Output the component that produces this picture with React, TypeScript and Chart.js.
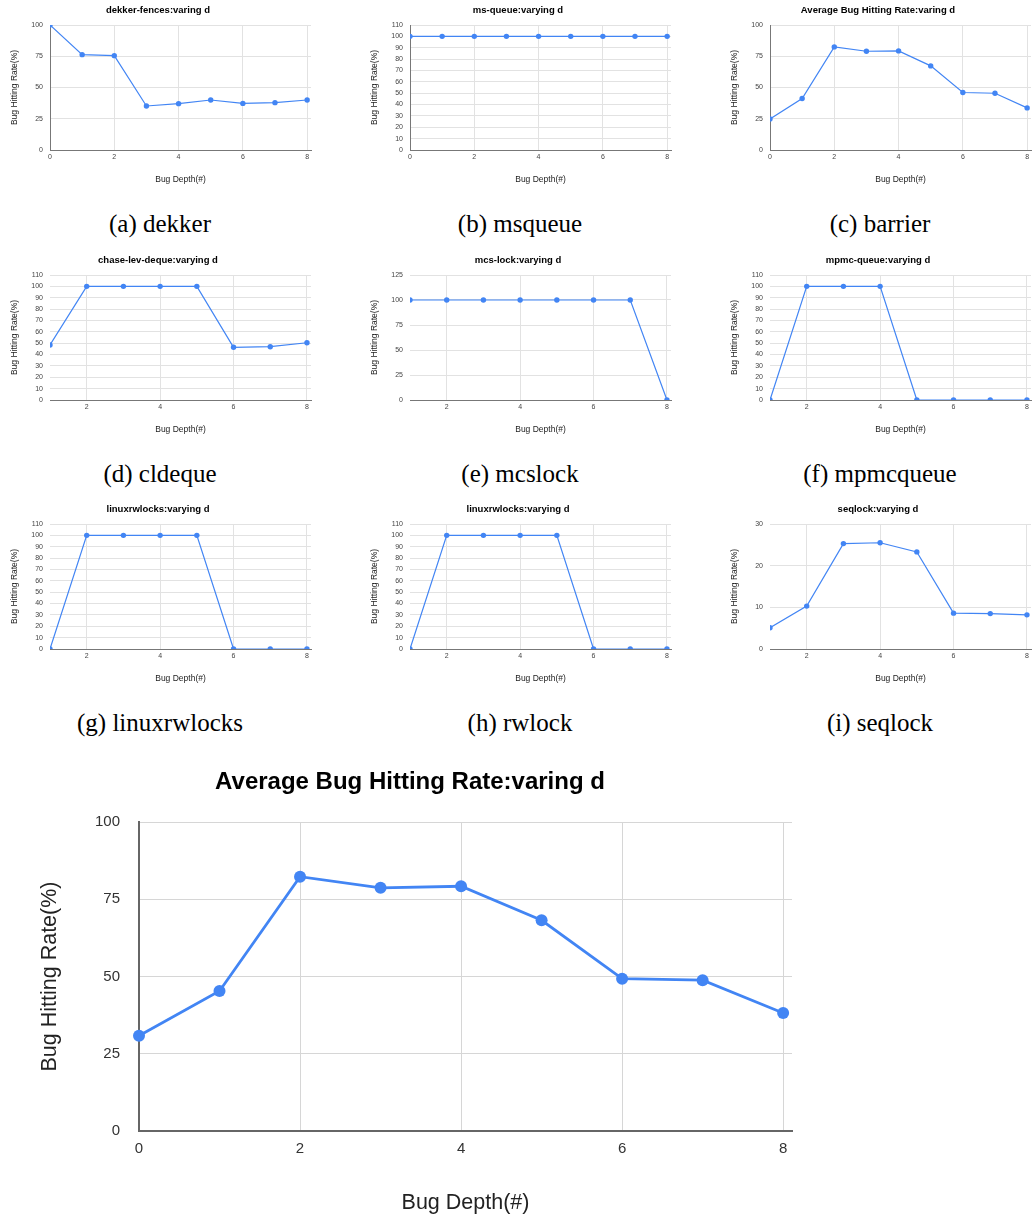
import React, { useEffect, useRef } from "react";
import { Chart, registerables } from "chart.js";

Chart.register(...registerables);

const FONT = "'Liberation Sans', Arial, Helvetica, sans-serif";
const SERIF = "'Liberation Serif', 'Times New Roman', Times, serif";
const BLUE = "#4285F4";

// ---------- data ----------
const depthsFrom0 = [0, 1, 2, 3, 4, 5, 6, 7, 8];
const depthsFrom1 = [1, 2, 3, 4, 5, 6, 7, 8];
const xTicksFrom0 = [0, 2, 4, 6, 8];
const xTicksFrom1 = [2, 4, 6, 8];
const yTicks100 = [0, 25, 50, 75, 100];
const yTicks110 = [0, 10, 20, 30, 40, 50, 60, 70, 80, 90, 100, 110];
const yTicks125 = [0, 25, 50, 75, 100, 125];
const yTicks30 = [0, 10, 20, 30];

const dekkerValues = [100, 76.3, 75.5, 35.2, 37.1, 40.0, 37.3, 37.9, 40.0];
const msqueueValues = [100, 100, 100, 100, 100, 100, 100, 100, 100];
const barrierValues = [24.8, 41.2, 82.5, 79.0, 79.3, 67.3, 46.0, 45.4, 33.7];
const cldequeValues = [48.4, 100, 100, 100, 100, 46.4, 46.9, 50.4];
const mcslockValues = [100, 100, 100, 100, 100, 100, 100, 0];
const mpmcqueueValues = [0, 100, 100, 100, 0, 0, 0, 0];
const linuxrwlocksValues = [0, 100, 100, 100, 100, 0, 0, 0];
const rwlockValues = [0, 100, 100, 100, 100, 0, 0, 0];
const seqlockValues = [5.1, 10.3, 25.3, 25.5, 23.3, 8.6, 8.5, 8.2];
const averageValues = [30.8, 45.3, 82.3, 78.7, 79.2, 68.2, 49.3, 48.8, 38.2];

const xAxisTitle = "Bug Depth(#)";
const yAxisTitle = "Bug Hitting Rate(%)";

type Panel = {
  title: string;
  caption: string;
  xs: number[];
  ys: number[];
  xTicks: number[];
  yTicks: number[];
  xMin: number;
  xMax: number;
  yMax: number;
};

const panels: Panel[] = [
  { title: "dekker-fences:varing d", caption: "(a) dekker", xs: depthsFrom0, ys: dekkerValues, xTicks: xTicksFrom0, yTicks: yTicks100, xMin: 0, xMax: 8.12, yMax: 100 },
  { title: "ms-queue:varying d", caption: "(b) msqueue", xs: depthsFrom0, ys: msqueueValues, xTicks: xTicksFrom0, yTicks: yTicks110, xMin: 0, xMax: 8.12, yMax: 110 },
  { title: "Average Bug Hitting Rate:varing d", caption: "(c) barrier", xs: depthsFrom0, ys: barrierValues, xTicks: xTicksFrom0, yTicks: yTicks100, xMin: 0, xMax: 8.12, yMax: 100 },
  { title: "chase-lev-deque:varying d", caption: "(d) cldeque", xs: depthsFrom1, ys: cldequeValues, xTicks: xTicksFrom1, yTicks: yTicks110, xMin: 1, xMax: 8.11, yMax: 110 },
  { title: "mcs-lock:varying d", caption: "(e) mcslock", xs: depthsFrom1, ys: mcslockValues, xTicks: xTicksFrom1, yTicks: yTicks125, xMin: 1, xMax: 8.11, yMax: 125 },
  { title: "mpmc-queue:varying d", caption: "(f) mpmcqueue", xs: depthsFrom1, ys: mpmcqueueValues, xTicks: xTicksFrom1, yTicks: yTicks110, xMin: 1, xMax: 8.11, yMax: 110 },
  { title: "linuxrwlocks:varying d", caption: "(g) linuxrwlocks", xs: depthsFrom1, ys: linuxrwlocksValues, xTicks: xTicksFrom1, yTicks: yTicks110, xMin: 1, xMax: 8.11, yMax: 110 },
  { title: "linuxrwlocks:varying d", caption: "(h) rwlock", xs: depthsFrom1, ys: rwlockValues, xTicks: xTicksFrom1, yTicks: yTicks110, xMin: 1, xMax: 8.11, yMax: 110 },
  { title: "seqlock:varying d", caption: "(i) seqlock", xs: depthsFrom1, ys: seqlockValues, xTicks: xTicksFrom1, yTicks: yTicks30, xMin: 1, xMax: 8.11, yMax: 30 },
];

const bigPanel: Panel = {
  title: "Average Bug Hitting Rate:varing d",
  caption: "",
  xs: depthsFrom0,
  ys: averageValues,
  xTicks: xTicksFrom0,
  yTicks: yTicks100,
  xMin: 0,
  xMax: 8.11,
  yMax: 100,
};

type Style = {
  width: number;
  height: number;
  padL: number;
  padR: number;
  titleSize: number;
  titlePadTop: number;
  titlePadBottom: number;
  tickSize: number;
  axisTitleSize: number;
  xAxisHeight: number;
  yAxisWidth: number;
  xTickPad: number;
  yTickPad: number;
  xTitlePadBottom: number;
  yTitlePadTop: number;
  lineWidth: number;
  pointRadius: number;
  gridColor: string;
  axisColor: string;
  axisWidth: number;
  tickColor: string;
  clip: any;
};

const smallStyle: Style = {
  width: 314,
  height: 195,
  padL: 5,
  padR: 3,
  titleSize: 9.5,
  titlePadTop: 4.3,
  titlePadBottom: 9.3,
  tickSize: 7,
  axisTitleSize: 8.5,
  xAxisHeight: 45,
  yAxisWidth: 45,
  xTickPad: 2.5,
  yTickPad: 7,
  xTitlePadBottom: 10.6,
  yTitlePadTop: 4.9,
  lineWidth: 1.2,
  pointRadius: 2.7,
  gridColor: "#e2e2e2",
  axisColor: "#777777",
  axisWidth: 1,
  tickColor: "#444444",
  clip: undefined,
};

const bigStyle: Style = {
  width: 802,
  height: 460,
  padL: 28,
  padR: 10,
  titleSize: 24,
  titlePadTop: 7.6,
  titlePadBottom: 25.6,
  tickSize: 15,
  axisTitleSize: 21.5,
  xAxisHeight: 89,
  yAxisWidth: 111,
  xTickPad: 9,
  yTickPad: 19,
  xTitlePadBottom: 4.1,
  yTitlePadTop: 9.1,
  lineWidth: 2.8,
  pointRadius: 6,
  gridColor: "#d6d6d6",
  axisColor: "#666666",
  axisWidth: 2,
  tickColor: "#333333",
  clip: false,
};

function makeConfig(p: Panel, s: Style): any {
  const ds: any = {
    data: p.xs.map((x, i) => ({ x, y: p.ys[i] })),
    borderColor: BLUE,
    backgroundColor: BLUE,
    borderWidth: s.lineWidth,
    pointRadius: s.pointRadius,
    pointBackgroundColor: BLUE,
    pointBorderWidth: 0,
    tension: 0,
    fill: false,
  };
  if (s.clip !== undefined) ds.clip = s.clip;
  return {
    type: "line",
    data: { datasets: [ds] },
    options: {
      responsive: false,
      animation: false,
      events: [],
      layout: {
        autoPadding: false,
        padding: { left: s.padL, right: s.padR, top: 0, bottom: 0 },
      },
      plugins: {
        legend: { display: false },
        tooltip: { enabled: false },
        title: {
          display: true,
          text: p.title,
          color: "#000000",
          font: { family: FONT, size: s.titleSize, weight: "bold", lineHeight: 1.2 },
          padding: { top: s.titlePadTop, bottom: s.titlePadBottom },
        },
      },
      scales: {
        x: {
          type: "linear",
          min: p.xMin,
          max: p.xMax,
          afterBuildTicks: (sc: any) => {
            sc.ticks = p.xTicks.map((v) => ({ value: v }));
          },
          afterFit: (sc: any) => {
            sc.height = s.xAxisHeight;
          },
          ticks: {
            autoSkip: false,
            maxRotation: 0,
            minRotation: 0,
            padding: s.xTickPad,
            color: s.tickColor,
            font: { family: FONT, size: s.tickSize, lineHeight: 1.2 },
            callback: (v: any) => String(v),
          },
          grid: { color: s.gridColor, lineWidth: 1, drawTicks: false },
          border: { display: true, color: s.axisColor, width: s.axisWidth },
          title: {
            display: true,
            text: xAxisTitle,
            color: "#222222",
            font: { family: FONT, size: s.axisTitleSize, lineHeight: 1.2 },
            padding: { top: 0, bottom: s.xTitlePadBottom },
          },
        },
        y: {
          type: "linear",
          min: 0,
          max: p.yMax,
          afterBuildTicks: (sc: any) => {
            sc.ticks = p.yTicks.map((v) => ({ value: v }));
          },
          afterFit: (sc: any) => {
            sc.width = s.yAxisWidth;
          },
          ticks: {
            autoSkip: false,
            padding: s.yTickPad,
            color: s.tickColor,
            font: { family: FONT, size: s.tickSize, lineHeight: 1.2 },
            callback: (v: any) => String(v),
          },
          grid: { color: s.gridColor, lineWidth: 1, drawTicks: false },
          border: { display: p.xMin === 0, color: s.axisColor, width: s.axisWidth },
          title: {
            display: true,
            text: yAxisTitle,
            color: "#222222",
            font: { family: FONT, size: s.axisTitleSize, lineHeight: 1.2 },
            padding: { top: s.yTitlePadTop, bottom: 0 },
          },
        },
      },
    },
  };
}

function LineChart({ panel, style, left, top }: { panel: Panel; style: Style; left: number; top: number }) {
  const ref = useRef<HTMLCanvasElement | null>(null);
  useEffect(() => {
    if (!ref.current) return;
    const chart = new Chart(ref.current, makeConfig(panel, style));
    return () => chart.destroy();
  }, [panel, style]);
  return (
    <canvas
      ref={ref}
      width={style.width}
      height={style.height}
      style={{ position: "absolute", left, top, width: style.width, height: style.height, display: "block" }}
    />
  );
}

const colX = [0, 360, 720];
const rowY = [0, 250, 499];

export default function App() {
  return (
    <div
      style={{
        position: "absolute",
        left: 0,
        top: 0,
        width: 1034,
        height: 1220,
        overflow: "hidden",
        background: "#ffffff",
      }}
    >
      {panels.map((p, i) => {
        const cx = colX[i % 3];
        const ry = rowY[Math.floor(i / 3)];
        return (
          <React.Fragment key={i}>
            <LineChart panel={p} style={smallStyle} left={cx} top={ry} />
            <div
              style={{
                position: "absolute",
                left: cx,
                top: ry + 211,
                width: 320,
                textAlign: "center",
                fontFamily: SERIF,
                fontSize: 25,
                lineHeight: "25px",
                color: "#000000",
                whiteSpace: "nowrap",
              }}
            >
              {p.caption}
            </div>
          </React.Fragment>
        );
      })}
      <LineChart panel={bigPanel} style={bigStyle} left={0} top={760} />
    </div>
  );
}
